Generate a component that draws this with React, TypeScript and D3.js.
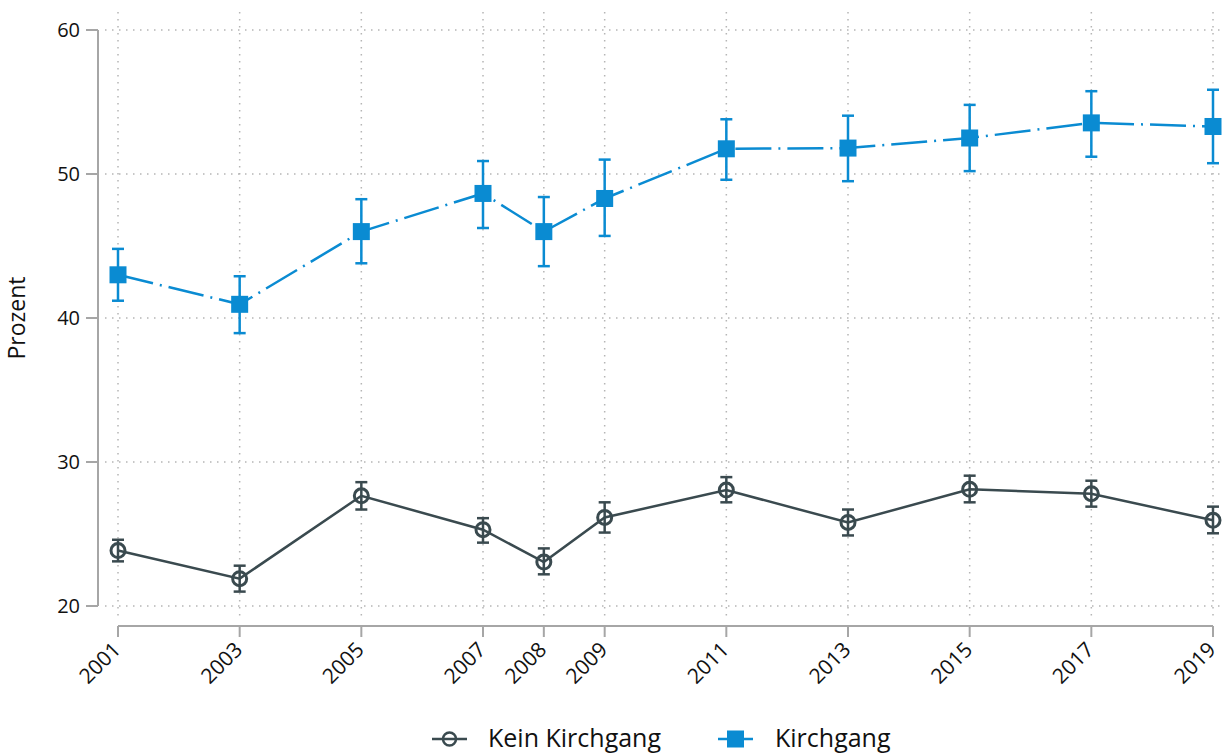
import React from "react";
import * as d3 from "d3";

const years = [2001, 2003, 2005, 2007, 2008, 2009, 2011, 2013, 2015, 2017, 2019];
const kirchMean = [43.0, 40.95, 46.0, 48.65, 46.0, 48.3, 51.75, 51.8, 52.5, 53.55, 53.3];
const kirchLo = [41.2, 38.95, 43.8, 46.25, 43.6, 45.7, 49.6, 49.5, 50.2, 51.2, 50.75];
const kirchHi = [44.8, 42.9, 48.25, 50.9, 48.4, 51.0, 53.8, 54.05, 54.8, 55.75, 55.85];
const keinMean = [23.85, 21.9, 27.65, 25.3, 23.05, 26.15, 28.05, 25.8, 28.1, 27.8, 25.95];
const keinLo = [23.1, 21.0, 26.7, 24.4, 22.2, 25.1, 27.2, 24.9, 27.2, 26.9, 25.05];
const keinHi = [24.6, 22.8, 28.6, 26.1, 24.0, 27.2, 28.95, 26.7, 29.05, 28.7, 26.9];
const yTicks = [20, 30, 40, 50, 60];

const BLUE = "#0a8bd2";
const DARK = "#3a4a4f";
const FONT = "'Open Sans', sans-serif";

export default function App() {
  const W = 1223, H = 754;
  const x = d3.scaleLinear().domain([2001, 2019]).range([118, 1213]);
  const y = d3.scaleLinear().domain([20, 60]).range([606, 30]);
  const line = d3.line<number>().x((_, i) => x(years[i])).y((d) => y(d));
  const LY = 739;

  return (
    <svg width={W} height={H} style={{ position: "absolute", left: 0, top: 0, background: "#fff" }}>
      {/* grid */}
      {yTicks.map((t) => (
        <line key={"gy" + t} x1={105} x2={1223} y1={y(t)} y2={y(t)} stroke="#b5b5b5" strokeWidth={1.5} strokeDasharray="1.5,5.5" />
      ))}
      {years.map((yr) => (
        <line key={"gx" + yr} x1={x(yr)} x2={x(yr)} y1={12} y2={620} stroke="#b5b5b5" strokeWidth={1.5} strokeDasharray="1.5,5.5" />
      ))}
      {/* y axis */}
      <line x1={98} x2={98} y1={y(60)} y2={y(20)} stroke="#a6a6a6" strokeWidth={2} />
      {yTicks.map((t) => (
        <g key={"yt" + t}>
          <line x1={86} x2={98} y1={y(t)} y2={y(t)} stroke="#a6a6a6" strokeWidth={2} />
          <text x={80} y={y(t)} dy="0.36em" textAnchor="end" fontSize={20} fontFamily={FONT} fill="#111">{t}</text>
        </g>
      ))}
      <text transform="translate(25,318) rotate(-90)" textAnchor="middle" fontSize={23} fontFamily={FONT} fill="#111">Prozent</text>
      {/* x axis */}
      <line x1={x(2001)} x2={x(2019)} y1={626} y2={626} stroke="#a6a6a6" strokeWidth={2} />
      {years.map((yr) => (
        <g key={"xt" + yr}>
          <line x1={x(yr)} x2={x(yr)} y1={626} y2={637} stroke="#a6a6a6" strokeWidth={2} />
          <text transform={`translate(${x(yr) + 4},${651}) rotate(-45)`} textAnchor="end" fontSize={21} fontFamily={FONT} fill="#111">{yr}</text>
        </g>
      ))}
      {/* Kein Kirchgang */}
      <path d={line(keinMean) || ""} fill="none" stroke={DARK} strokeWidth={2.5} />
      {years.map((yr, i) => (
        <g key={"k" + yr} stroke={DARK} strokeWidth={2.5}>
          <line x1={x(yr)} x2={x(yr)} y1={y(keinLo[i])} y2={y(keinHi[i])} />
          <line x1={x(yr) - 6} x2={x(yr) + 6} y1={y(keinLo[i])} y2={y(keinLo[i])} />
          <line x1={x(yr) - 6} x2={x(yr) + 6} y1={y(keinHi[i])} y2={y(keinHi[i])} />
          <circle cx={x(yr)} cy={y(keinMean[i])} r={7} fill="none" strokeWidth={3} />
        </g>
      ))}
      {/* Kirchgang */}
      <path d={line(kirchMean) || ""} fill="none" stroke={BLUE} strokeWidth={2.5} strokeDasharray="36,7,2,7" />
      {years.map((yr, i) => (
        <g key={"c" + yr} stroke={BLUE} strokeWidth={2.5}>
          <line x1={x(yr)} x2={x(yr)} y1={y(kirchLo[i])} y2={y(kirchHi[i])} />
          <line x1={x(yr) - 6} x2={x(yr) + 6} y1={y(kirchLo[i])} y2={y(kirchLo[i])} />
          <line x1={x(yr) - 6} x2={x(yr) + 6} y1={y(kirchHi[i])} y2={y(kirchHi[i])} />
          <rect x={x(yr) - 8.5} y={y(kirchMean[i]) - 8.5} width={17} height={17} fill={BLUE} stroke="none" />
        </g>
      ))}
      {/* legend */}
      <g>
        <line x1={432} x2={467} y1={LY} y2={LY} stroke={DARK} strokeWidth={2.5} />
        <circle cx={449.5} cy={LY} r={6.5} fill="none" stroke={DARK} strokeWidth={2.5} />
        <text x={488} y={LY - 1} dy="0.36em" fontSize={25} fontFamily={FONT} fill="#111">Kein Kirchgang</text>
        <line x1={718} x2={753} y1={LY} y2={LY} stroke={BLUE} strokeWidth={2.5} />
        <rect x={727} y={LY - 8.5} width={17} height={17} fill={BLUE} />
        <text x={775} y={LY - 1} dy="0.36em" fontSize={25} fontFamily={FONT} fill="#111">Kirchgang</text>
      </g>
    </svg>
  );
}
